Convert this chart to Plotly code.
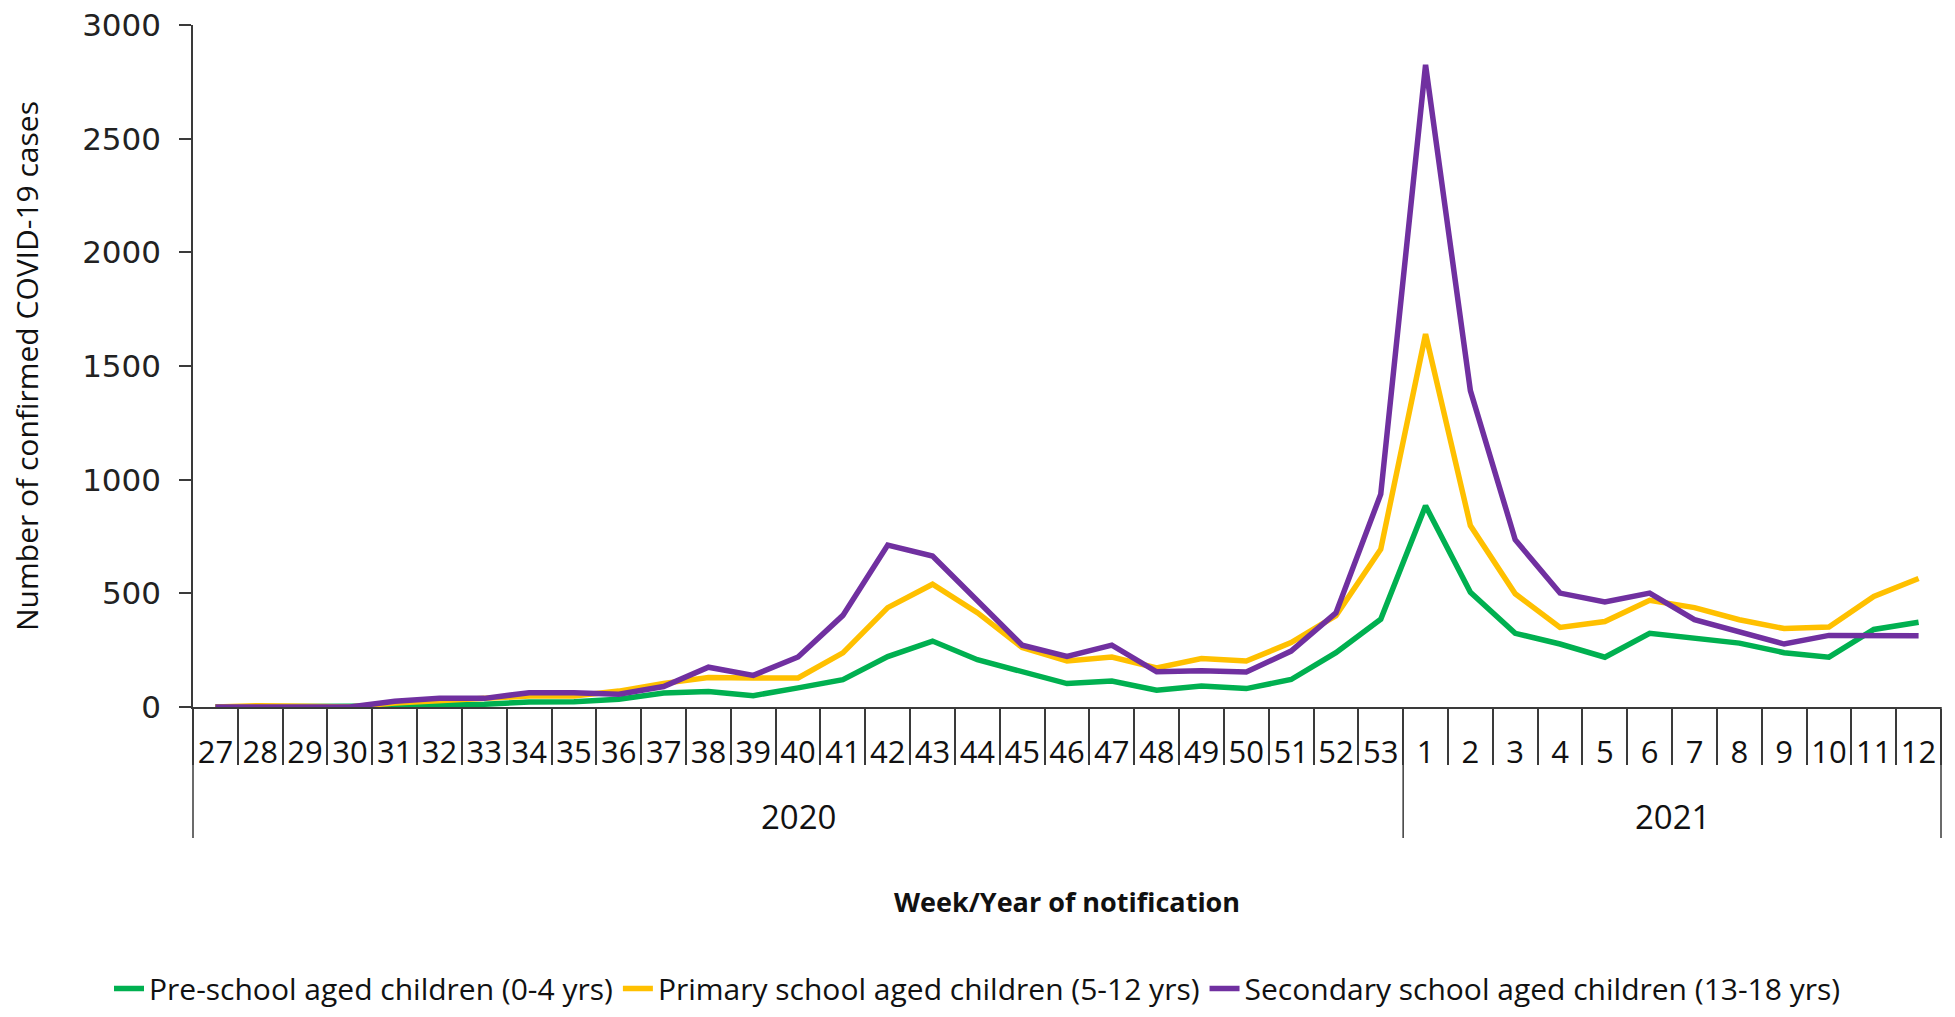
import plotly.graph_objects as go

weeks_2020 = ["27", "28", "29", "30", "31", "32", "33", "34", "35", "36", "37", "38", "39",
              "40", "41", "42", "43", "44", "45", "46", "47", "48", "49", "50", "51", "52", "53"]
weeks_2021 = ["1", "2", "3", "4", "5", "6", "7", "8", "9", "10", "11", "12"]
years = ["2020", "2021"]
weeks = weeks_2020 + weeks_2021

pre_school = [0, 0, 0, 0, 4, 9, 12, 22, 23, 34, 62, 68, 50, 84, 120, 222, 290, 208, 156, 103,
              114, 74, 92, 81, 121, 239, 386,
              885, 505, 324, 277, 219, 324, 303, 281, 239, 219, 341, 373]
primary = [0, 6, 3, 0, 18, 26, 40, 48, 48, 70, 104, 130, 128, 128, 238, 437, 540, 415, 262, 202,
           220, 172, 213, 202, 283, 402, 694,
           1640, 798, 498, 350, 376, 469, 437, 384, 345, 352, 486, 565]
secondary = [0, 0, 0, 0, 25, 38, 38, 63, 63, 56, 90, 175, 139, 220, 403, 712, 664, 466, 272, 222,
             272, 155, 160, 154, 246, 414, 936,
             2825, 1392, 736, 501, 462, 501, 384, 330, 277, 315, 313, 313]

series_names = ["Pre-school aged children (0-4 yrs)",
                "Primary school aged children (5-12 yrs)",
                "Secondary school aged children (13-18 yrs)"]
series_values = [pre_school, primary, secondary]
series_colors = ["#00B050", "#FFC000", "#7030A0"]

AX = "#3a3a3a"
FONT = "Open Sans"

fig = go.Figure()
for name, vals, col in zip(series_names, series_values, series_colors):
    fig.add_trace(go.Scatter(x=weeks, y=vals, mode="lines", name=name,
                             line=dict(color=col, width=5.5)))

n20 = len(weeks_2020)
# year-group dividers: both ends of the axis and the boundary between the years
for xr, xv in [("paper", 0), ("x", n20 - 0.5), ("paper", 1)]:
    fig.add_shape(type="line", xref=xr, yref="paper", x0=xv, x1=xv, y0=0, y1=-0.192,
                  line=dict(color=AX, width=1.5))

year_centers = [(n20 - 1) / 2, n20 + (len(weeks_2021) - 1) / 2]
for yr, xc in zip(years, year_centers):
    fig.add_annotation(x=xc, y=-0.161, xref="x", yref="paper", text=yr, showarrow=False,
                       yanchor="middle", font=dict(family=FONT, size=33, color="#111"))

fig.update_layout(
    width=1955, height=1017,
    margin=dict(l=193, r=14, t=25, b=310, autoexpand=False),
    paper_bgcolor="white", plot_bgcolor="white",
    showlegend=True,
    legend=dict(orientation="h", xref="container", x=0.5, xanchor="center",
                yref="container", y=0.028, yanchor="middle",
                font=dict(family=FONT, size=30, color="#111"), itemwidth=30),
    font=dict(family=FONT, color="#111"),
)
fig.update_xaxes(type="category", range=[-0.5, len(weeks) - 0.5], tickson="boundaries",
                 ticks="outside", ticklen=56, tickcolor=AX, tickwidth=1.5,
                 showline=True, linecolor=AX, linewidth=1.5, showgrid=False, zeroline=False,
                 tickangle=0, ticklabelstandoff=17, automargin=False,
                 tickfont=dict(family=FONT, size=31, color="#111"),
                 title=dict(text="<b>Week/Year of notification</b>", standoff=122,
                            font=dict(family=FONT, size=27, color="#111")))
fig.update_yaxes(range=[0, 3000], tickvals=[0, 500, 1000, 1500, 2000, 2500, 3000],
                 ticks="outside", ticklen=12, tickcolor=AX, tickwidth=1.5,
                 showline=True, linecolor=AX, linewidth=1.5, showgrid=False, zeroline=False,
                 ticklabelstandoff=12, automargin=False,
                 tickfont=dict(family="DejaVu Sans", size=31, color="#222"),
                 title=dict(text="Number of confirmed COVID-19 cases", standoff=35,
                            font=dict(family=FONT, size=30, color="#111")))

fig.write_html("out.html", config={"displayModeBar": False},
               post_script="document.body.style.margin='0';document.body.style.overflow='hidden';")
